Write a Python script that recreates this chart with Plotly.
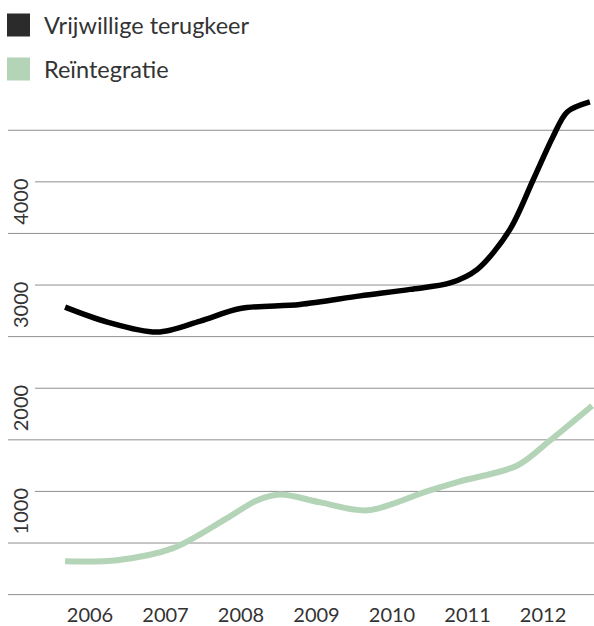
import plotly.graph_objects as go

# ---- data ----
years = [2006, 2007, 2008, 2009, 2010, 2011, 2012]
tick_labels = [str(y) for y in years]
y_ticks = [1000, 2000, 3000, 4000]
grid_vals = [0, 500, 1000, 1500, 2000, 2500, 3000, 3500, 4000, 4500]

vrijwillig_x = [2005.67, 2006.23, 2006.89, 2007.46, 2007.99, 2008.78,
                2009.58, 2010.24, 2010.77, 2011.13, 2011.56, 2011.87, 2012.13,
                2012.32, 2012.62]
vrijwillig_y = [2786, 2641, 2544, 2651, 2772, 2812, 2895, 2958, 3020,
                3152, 3537, 4020, 4435, 4677, 4774]

reintegratie_x = [2005.67, 2006.36, 2007.10, 2007.81, 2008.21, 2008.52, 2009.05,
                  2009.68, 2010.46, 2010.90, 2011.66, 2012.09, 2012.65]
reintegratie_y = [324, 334, 450, 739, 913, 971, 894, 817, 1000, 1097, 1251,
                  1492, 1830]

series_names = ["Vrijwillige terugkeer", "Reïntegratie"]
series_colors = ["#000000", "#b3d4b6"]
legend_colors = ["#2b2b2b", "#b3d4b6"]

FONT = "Lato"
TEXT = "#333333"
GRID = "#8f8f8f"

fig = go.Figure()
fig.add_trace(go.Scatter(x=reintegratie_x, y=reintegratie_y, mode="lines",
                         line=dict(color=series_colors[1], width=6,
                                   shape="spline", smoothing=0.9),
                         name=series_names[1], hoverinfo="skip"))
fig.add_trace(go.Scatter(x=vrijwillig_x, y=vrijwillig_y, mode="lines",
                         line=dict(color=series_colors[0], width=5.5,
                                   shape="spline", smoothing=0.9),
                         name=series_names[0], hoverinfo="skip"))

shapes = []
for v in grid_vals:
    full = v % 1000 != 0 or v == 0
    shapes.append(dict(type="line", xref="paper", yref="y", layer="below",
                       x0=0 if full else 0.046, x1=1, y0=v, y1=v,
                       line=dict(color=GRID, width=1)))

annotations = []
for v in y_ticks:
    annotations.append(dict(xref="paper", yref="y", x=0, y=v, xshift=12,
                            yshift=-20, text=str(v), showarrow=False,
                            textangle=-90, xanchor="center", yanchor="middle",
                            font=dict(family=FONT, size=20, color=TEXT)))

# legend (squares + text) in the top margin
leg_y = [25, 69]
for name, col, yy in zip(series_names, legend_colors, leg_y):
    shapes.append(dict(type="rect", xref="paper", yref="paper",
                       xsizemode="pixel", ysizemode="pixel",
                       xanchor=0, yanchor=1,
                       x0=-1, x1=22, y0=90 - yy - 11.5, y1=90 - yy + 11.5,
                       fillcolor=col, line=dict(width=0)))
    annotations.append(dict(xref="paper", yref="paper", x=0, y=1,
                            xshift=34, yshift=90 - yy, text=name,
                            showarrow=False, xanchor="left", yanchor="middle",
                            font=dict(family=FONT, size=23.5, color=TEXT)))

fig.update_layout(
    width=594, height=626,
    margin=dict(l=8, r=0, t=90, b=26),
    paper_bgcolor="white", plot_bgcolor="white",
    showlegend=False,
    shapes=shapes, annotations=annotations,
    xaxis=dict(range=[2004.914, 2012.675], tickvals=years, ticktext=tick_labels,
               showgrid=False, zeroline=False, showline=False, ticks="",
               ticklabelstandoff=3,
               tickfont=dict(family=FONT, size=20, color=TEXT),
               fixedrange=True),
    yaxis=dict(range=[-32.8, 4890], showgrid=False, zeroline=False,
               showticklabels=False, showline=False, ticks="",
               fixedrange=True),
)

fig.write_html("out.html",
               config={"displayModeBar": False},
               post_script="document.body.style.margin='0px';"
                           "document.body.style.overflow='hidden';")
